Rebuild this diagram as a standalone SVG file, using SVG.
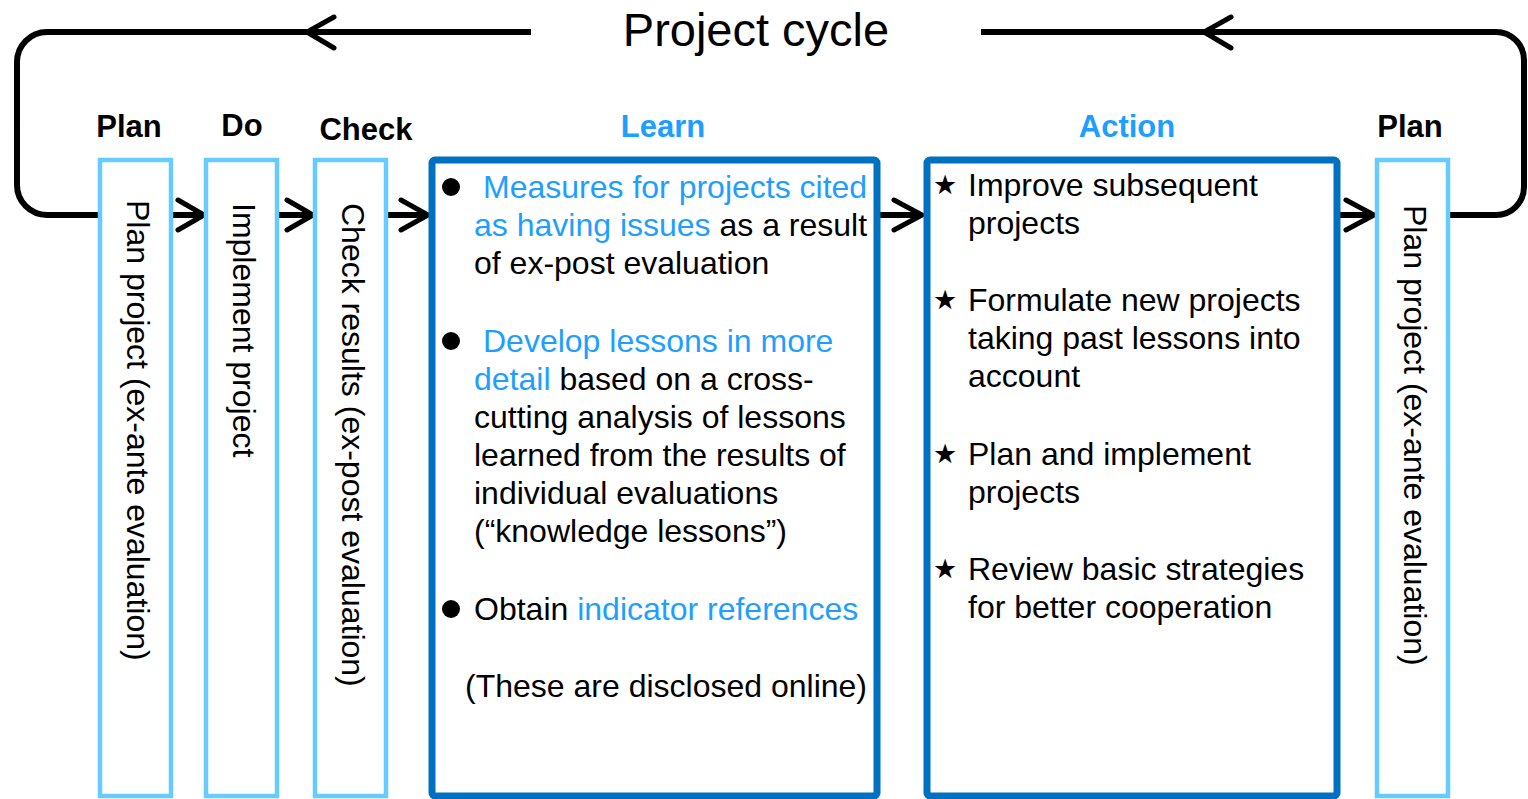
<svg xmlns="http://www.w3.org/2000/svg" width="1528" height="799" viewBox="0 0 1528 799">
<style>
text{font-family:"Liberation Sans",Arial,sans-serif;fill:#000}
.t{font-size:32px}
.h{font-size:31px;font-weight:bold}
.b{fill:#1E9FFF}
.lb{fill:#fff;stroke:#66CCFF;stroke-width:4.5}
.db{fill:#fff;stroke:#0070C0;stroke-width:7}
.ln{fill:none;stroke:#000;stroke-width:6}
.ch{fill:none;stroke:#000;stroke-width:5;stroke-linecap:round;stroke-linejoin:miter}
.st{font-family:"DejaVu Sans",sans-serif;font-size:27px}
</style>
<rect width="1528" height="799" fill="#fff"/>
<g id="connectors">
<path class="ln" d="M100,215 H47 A30,30 0 0 1 17,185 V62 A30,30 0 0 1 47,32 H531"/>
<path class="ln" d="M981,32 H1496 A28,28 0 0 1 1524,60 V187 A28,28 0 0 1 1496,215 H1448"/>
<path class="ch" d="M334,17 L307,32 L334,48"/>
<path class="ch" d="M1231,17 L1204,32 L1231,48"/>
<path class="ln" d="M171,215 H203"/>
<path class="ch" d="M178,200 L204,215 L178,230"/>
<path class="ln" d="M277,215 H312"/>
<path class="ch" d="M287,200 L313,215 L287,230"/>
<path class="ln" d="M386,215 H427"/>
<path class="ch" d="M401,200 L428,215 L401,230"/>
<path class="ln" d="M880,215 H921"/>
<path class="ch" d="M894,200 L922,215 L894,230"/>
<path class="ln" d="M1340,215 H1373"/>
<path class="ch" d="M1346,200 L1374,215 L1346,230"/>
</g>
<text x="756" y="46" style="font-size:47px" text-anchor="middle">Project cycle</text>
<g id="plan1">
<text class="h" x="129" y="137" text-anchor="middle">Plan</text>
<rect class="lb" x="100" y="160" width="71" height="636"/>
<text class="t" transform="translate(127,200) rotate(90)">Plan project (ex-ante evaluation)</text>
</g>
<g id="do">
<text class="h" x="242" y="136" text-anchor="middle">Do</text>
<rect class="lb" x="206" y="160" width="71" height="636"/>
<text class="t" transform="translate(233,203) rotate(90)">Implement project</text>
</g>
<g id="check">
<text class="h" x="366" y="140" text-anchor="middle">Check</text>
<rect class="lb" x="315" y="160" width="71" height="636"/>
<text class="t" transform="translate(342,203) rotate(90)">Check results (ex-post evaluation)</text>
</g>
<g id="learn">
<text class="h b" x="663" y="137" text-anchor="middle">Learn</text>
<rect class="db" x="432" y="160" width="445" height="636" rx="3"/>
<circle cx="451" cy="187" r="9"/>
<circle cx="451" cy="341" r="9"/>
<circle cx="451" cy="609" r="9"/>
<text class="t b" x="483" y="198">Measures for projects cited</text>
<text class="t" x="474" y="236"><tspan class="b">as having issues</tspan> as a result</text>
<text class="t" x="474" y="274">of ex-post evaluation</text>
<text class="t b" x="483" y="352">Develop lessons in more</text>
<text class="t" x="474" y="390"><tspan class="b">detail</tspan> based on a cross-</text>
<text class="t" x="474" y="428">cutting analysis of lessons</text>
<text class="t" x="474" y="466">learned from the results of</text>
<text class="t" x="474" y="504">individual evaluations</text>
<text class="t" x="474" y="542">(“knowledge lessons”)</text>
<text class="t" x="474" y="620">Obtain <tspan class="b">indicator references</tspan></text>
<text class="t" x="465" y="697">(These are disclosed online)</text>
</g>
<g id="action">
<text class="h b" x="1127" y="137" text-anchor="middle">Action</text>
<rect class="db" x="927" y="160" width="410" height="636" rx="3"/>
<text class="st" x="945" y="194" text-anchor="middle">★</text>
<text class="st" x="945" y="309" text-anchor="middle">★</text>
<text class="st" x="945" y="463" text-anchor="middle">★</text>
<text class="st" x="945" y="578" text-anchor="middle">★</text>
<text class="t" x="968" y="196">Improve subsequent</text>
<text class="t" x="968" y="234">projects</text>
<text class="t" x="968" y="311">Formulate new projects</text>
<text class="t" x="968" y="349">taking past lessons into</text>
<text class="t" x="968" y="387">account</text>
<text class="t" x="968" y="465">Plan and implement</text>
<text class="t" x="968" y="503">projects</text>
<text class="t" x="968" y="580">Review basic strategies</text>
<text class="t" x="968" y="618">for better cooperation</text>
</g>
<g id="plan2">
<text class="h" x="1410" y="137" text-anchor="middle">Plan</text>
<rect class="lb" x="1377" y="160" width="71" height="636"/>
<text class="t" transform="translate(1404,205) rotate(90)">Plan project (ex-ante evaluation)</text>
</g>
</svg>
